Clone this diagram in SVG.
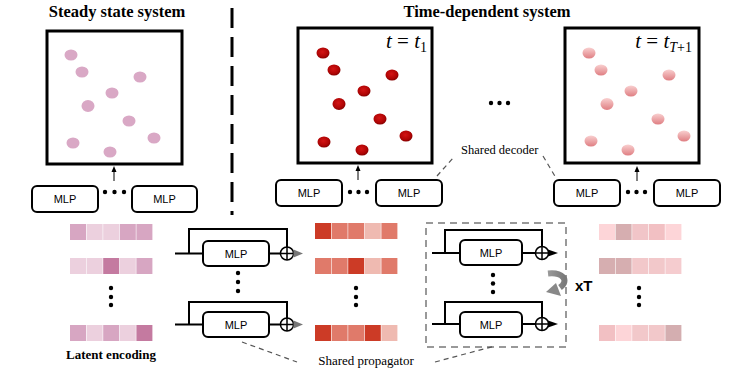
<svg xmlns="http://www.w3.org/2000/svg" width="747" height="374" viewBox="0 0 747 374">
<defs>
<radialGradient id="gRed" cx="0.45" cy="0.4" r="0.6">
<stop offset="0" stop-color="#d41414"/><stop offset="0.7" stop-color="#b00505"/><stop offset="1" stop-color="#850000"/>
</radialGradient>
<linearGradient id="gPink" x1="0" y1="0" x2="0" y2="1">
<stop offset="0" stop-color="#f9d0d0"/><stop offset="1" stop-color="#df7e82"/>
</linearGradient>
<linearGradient id="gArr" x1="0" y1="0" x2="1" y2="0">
<stop offset="0" stop-color="#9a9a9a"/><stop offset="1" stop-color="#7a7a7a"/>
</linearGradient>
<marker id="arrUp" viewBox="0 0 6 6" refX="3" refY="3" markerWidth="6" markerHeight="6" orient="auto" markerUnits="userSpaceOnUse">
<path d="M0,0.5 L6,3 L0,5.5 Z" fill="#000"/>
</marker>
<g id="plus">
<circle cx="0" cy="0" r="6.5" fill="#fff" stroke="#000" stroke-width="1.5"/>
<path d="M-6.5,0 H6.5 M0,-6.5 V6.5" stroke="#000" stroke-width="1.5"/>
</g>
</defs>
<style>
.title{font-family:"Liberation Serif",serif;font-weight:bold;font-size:16.5px;fill:#000}
.box{fill:#fff;stroke:#000;stroke-width:3}
.mlp{fill:#fff;stroke:#000;stroke-width:2}
.mlpt{font-family:"Liberation Sans",Arial,sans-serif;font-size:11px;fill:#000;text-anchor:middle}
.lbl{font-family:"Liberation Serif",serif;font-size:13px;fill:#000}
.math{font-family:"Liberation Serif",serif;font-size:21px;fill:#000}
.ps{fill:#d9a8c5}
.pr{fill:url(#gRed)}
.pp{fill:url(#gPink)}
.dot{fill:#000}
.wire{fill:none;stroke:#000;stroke-width:2}
.lead{fill:none;stroke:#555;stroke-width:1.2;stroke-dasharray:5 4}
</style>

<text class="title" x="117" y="17" text-anchor="middle">Steady state system</text>
<text class="title" x="487" y="17" text-anchor="middle">Time-dependent system</text>
<line x1="232" y1="8" x2="232" y2="215" stroke="#000" stroke-width="3" stroke-dasharray="20 9"/>

<g id="steady-box">
<rect class="box" x="47" y="31" width="135" height="133"/>
<ellipse class="ps" cx="71" cy="55" rx="6.5" ry="5.5"/>
<ellipse class="ps" cx="82" cy="72" rx="6.5" ry="5.5"/>
<ellipse class="ps" cx="140" cy="77" rx="6.5" ry="5.5"/>
<ellipse class="ps" cx="112" cy="93" rx="6.5" ry="5.5"/>
<ellipse class="ps" cx="88" cy="106" rx="6.5" ry="6"/>
<ellipse class="ps" cx="129" cy="121" rx="6.5" ry="5.5"/>
<ellipse class="ps" cx="154" cy="138" rx="6.5" ry="5.5"/>
<ellipse class="ps" cx="73" cy="143" rx="6.5" ry="5.5"/>
<ellipse class="ps" cx="110" cy="152" rx="6.5" ry="5.5"/>
</g>

<g id="t1-box">
<rect class="box" x="298" y="28" width="134" height="135"/>
<text class="math" x="427" y="48" text-anchor="end"><tspan font-style="italic">t</tspan> = <tspan font-style="italic">t</tspan><tspan font-size="14" dy="4">1</tspan></text>
<ellipse class="pr" cx="323" cy="53" rx="6.5" ry="5.5"/>
<ellipse class="pr" cx="334" cy="70" rx="6.5" ry="5.5"/>
<ellipse class="pr" cx="392" cy="75" rx="6.5" ry="5.5"/>
<ellipse class="pr" cx="364" cy="91" rx="6.5" ry="5.5"/>
<ellipse class="pr" cx="339" cy="104" rx="6.5" ry="6"/>
<ellipse class="pr" cx="380" cy="119" rx="6.5" ry="5.5"/>
<ellipse class="pr" cx="406" cy="136" rx="6.5" ry="5.5"/>
<ellipse class="pr" cx="324" cy="142" rx="6.5" ry="5.5"/>
<ellipse class="pr" cx="362" cy="150" rx="6.5" ry="5.5"/>
</g>

<g id="tT-box">
<rect class="box" x="565" y="28" width="134" height="135"/>
<text class="math" x="692" y="48" text-anchor="end"><tspan font-style="italic">t</tspan> = <tspan font-style="italic">t</tspan><tspan font-size="14" dy="4"><tspan font-style="italic">T</tspan>+1</tspan></text>
<ellipse class="pp" cx="589" cy="53" rx="6.5" ry="5.5"/>
<ellipse class="pp" cx="601" cy="70" rx="6.5" ry="5.5"/>
<ellipse class="pp" cx="669" cy="75" rx="6.5" ry="5.5"/>
<ellipse class="pp" cx="631" cy="91" rx="6.5" ry="5.5"/>
<ellipse class="pp" cx="607" cy="104" rx="6.5" ry="6"/>
<ellipse class="pp" cx="658" cy="119" rx="6.5" ry="5.5"/>
<ellipse class="pp" cx="684" cy="136" rx="6.5" ry="5.5"/>
<ellipse class="pp" cx="591" cy="141" rx="6.5" ry="5.5"/>
<ellipse class="pp" cx="628" cy="150" rx="6.5" ry="5.5"/>
</g>

<g id="ellipsis-top">
<circle class="dot" cx="491" cy="103" r="2.2"/><circle class="dot" cx="499.5" cy="103" r="2.2"/><circle class="dot" cx="508" cy="103" r="2.2"/>
</g>

<g id="steady-mlps">
<rect class="mlp" x="32" y="186" width="66" height="26" rx="5"/><text class="mlpt" x="65" y="203">MLP</text>
<rect class="mlp" x="132" y="186" width="65" height="26" rx="5"/><text class="mlpt" x="164.5" y="203">MLP</text>
<circle class="dot" cx="105" cy="192" r="2.2"/><circle class="dot" cx="114.5" cy="192" r="2.2"/><circle class="dot" cx="124" cy="192" r="2.2"/>
</g>

<g id="t1-mlps">
<rect class="mlp" x="276" y="180" width="66" height="26" rx="5"/><text class="mlpt" x="309" y="197">MLP</text>
<rect class="mlp" x="376" y="180" width="66" height="26" rx="5"/><text class="mlpt" x="409" y="197">MLP</text>
<circle class="dot" cx="350" cy="192" r="2.2"/><circle class="dot" cx="358.5" cy="192" r="2.2"/><circle class="dot" cx="367" cy="192" r="2.2"/>
</g>

<g id="tT-mlps">
<rect class="mlp" x="554" y="180" width="66" height="26" rx="5"/><text class="mlpt" x="587" y="197">MLP</text>
<rect class="mlp" x="654" y="180" width="66" height="26" rx="5"/><text class="mlpt" x="687" y="197">MLP</text>
<circle class="dot" cx="628" cy="192" r="2.2"/><circle class="dot" cx="636.5" cy="192" r="2.2"/><circle class="dot" cx="645" cy="192" r="2.2"/>
</g>

<text id="shared-decoder" class="lbl" x="461" y="154" style="font-size:12.5px">Shared decoder</text>

<g id="latent-encoding">
<rect x="70" y="224" width="16" height="16" fill="#d7a6c2"/><rect x="86.6" y="224" width="16" height="16" fill="#ecd0de"/><rect x="103.2" y="224" width="16" height="16" fill="#ecd0de"/><rect x="119.8" y="224" width="16" height="16" fill="#d7a6c2"/><rect x="136.4" y="224" width="16" height="16" fill="#d7a6c2"/>
<rect x="70" y="258" width="16" height="16" fill="#ecd0de"/><rect x="86.6" y="258" width="16" height="16" fill="#ecd0de"/><rect x="103.2" y="258" width="16" height="16" fill="#c47aa0"/><rect x="119.8" y="258" width="16" height="16" fill="#ecd0de"/><rect x="136.4" y="258" width="16" height="16" fill="#d7a6c2"/>
<rect x="70" y="325" width="16" height="16" fill="#d7a6c2"/><rect x="86.6" y="325" width="16" height="16" fill="#ecd0de"/><rect x="103.2" y="325" width="16" height="16" fill="#d7a6c2"/><rect x="119.8" y="325" width="16" height="16" fill="#ecd0de"/><rect x="136.4" y="325" width="16" height="16" fill="#c47aa0"/>
<circle class="dot" cx="111" cy="288" r="2.2"/><circle class="dot" cx="111" cy="297" r="2.2"/><circle class="dot" cx="111" cy="305" r="2.2"/>
<text class="lbl" x="111" y="359" text-anchor="middle" font-weight="bold">Latent encoding</text>
</g>

<g id="propagator-1">
<rect class="mlp" x="203" y="241" width="66" height="25" rx="5"/><text class="mlpt" x="236" y="257.5">MLP</text>
<rect class="mlp" x="203" y="312" width="66" height="25" rx="5"/><text class="mlpt" x="236" y="328.5">MLP</text>
<use href="#plus" x="287" y="253.5"/>
<use href="#plus" x="287" y="324.5"/>
<polygon points="293.5,249.5 303,253.5 293.5,257.5" fill="#777"/>
<polygon points="293.5,320.5 303,324.5 293.5,328.5" fill="#777"/>
<circle class="dot" cx="238" cy="273" r="2.2"/><circle class="dot" cx="238" cy="282" r="2.2"/><circle class="dot" cx="238" cy="291" r="2.2"/>
</g>

<g id="latent-1">
<rect x="315" y="223" width="16" height="16" fill="#cc3b26"/><rect x="331.6" y="223" width="16" height="16" fill="#e07a6a"/><rect x="348.2" y="223" width="16" height="16" fill="#e07a6a"/><rect x="364.8" y="223" width="16" height="16" fill="#efbab1"/><rect x="381.4" y="223" width="16" height="16" fill="#e07a6a"/>
<rect x="315" y="258" width="16" height="16" fill="#e07a6a"/><rect x="331.6" y="258" width="16" height="16" fill="#e07a6a"/><rect x="348.2" y="258" width="16" height="16" fill="#cc3b26"/><rect x="364.8" y="258" width="16" height="16" fill="#efbab1"/><rect x="381.4" y="258" width="16" height="16" fill="#e07a6a"/>
<rect x="315" y="325" width="16" height="16" fill="#cc3b26"/><rect x="331.6" y="325" width="16" height="16" fill="#e07a6a"/><rect x="348.2" y="325" width="16" height="16" fill="#e07a6a"/><rect x="364.8" y="325" width="16" height="16" fill="#cc3b26"/><rect x="381.4" y="325" width="16" height="16" fill="#efbab1"/>
<circle class="dot" cx="356" cy="288" r="2.2"/><circle class="dot" cx="356" cy="297" r="2.2"/><circle class="dot" cx="356" cy="305" r="2.2"/>
</g>

<g id="propagator-T">
<rect x="426" y="223" width="140" height="124" fill="none" stroke="#999" stroke-width="2" stroke-dasharray="7 5"/>
<rect class="mlp" x="460" y="240" width="62" height="25" rx="5"/><text class="mlpt" x="491" y="256.5">MLP</text>
<rect class="mlp" x="460" y="312" width="62" height="25" rx="5"/><text class="mlpt" x="491" y="328.5">MLP</text>
<use href="#plus" x="542" y="253"/>
<use href="#plus" x="542" y="324"/>
<polygon points="548,249.5 558,253 548,256.5" fill="#000"/>
<polygon points="548,320.5 558,324 548,327.5" fill="#000"/>
<circle class="dot" cx="493" cy="275" r="2.2"/><circle class="dot" cx="493" cy="283.5" r="2.2"/><circle class="dot" cx="493" cy="292" r="2.2"/>
<path d="M548,273.5 C562,272 570,280 560,287.5" fill="none" stroke="url(#gArr)" stroke-width="6"/>
<polygon points="556,283 546,292 561,296" fill="#888"/>
<text x="575" y="291" font-family="Liberation Sans,Arial,sans-serif" font-size="15" font-weight="bold" fill="#000">xT</text>
</g>

<g id="latent-T">
<rect x="599" y="224" width="16" height="16" fill="#fdd5d8"/><rect x="615.6" y="224" width="16" height="16" fill="#d6aeb0"/><rect x="632.2" y="224" width="16" height="16" fill="#f1c5c8"/><rect x="648.8" y="224" width="16" height="16" fill="#f2c0c3"/><rect x="665.4" y="224" width="16" height="16" fill="#fdd5d8"/>
<rect x="599" y="258" width="16" height="16" fill="#d6aeb0"/><rect x="615.6" y="258" width="16" height="16" fill="#d6aeb0"/><rect x="632.2" y="258" width="16" height="16" fill="#f2c8ca"/><rect x="648.8" y="258" width="16" height="16" fill="#f2c8ca"/><rect x="665.4" y="258" width="16" height="16" fill="#f5cccf"/>
<rect x="599" y="325" width="16" height="16" fill="#f2c0c3"/><rect x="615.6" y="325" width="16" height="16" fill="#fdd5d8"/><rect x="632.2" y="325" width="16" height="16" fill="#f2c8ca"/><rect x="648.8" y="325" width="16" height="16" fill="#f2c8ca"/><rect x="665.4" y="325" width="16" height="16" fill="#d4aeb0"/>
<circle class="dot" cx="639" cy="288" r="2.2"/><circle class="dot" cx="639" cy="297" r="2.2"/><circle class="dot" cx="639" cy="305" r="2.2"/>
</g>

<text id="shared-propagator" class="lbl" x="366" y="365" text-anchor="middle">Shared propagator</text>

<g id="connectors">
<line x1="114" y1="181" x2="114" y2="169" stroke="#000" stroke-width="1" marker-end="url(#arrUp)"/>
<line x1="358" y1="180" x2="358" y2="168" stroke="#000" stroke-width="1" marker-end="url(#arrUp)"/>
<line x1="637" y1="181" x2="637" y2="169" stroke="#000" stroke-width="1" marker-end="url(#arrUp)"/>
<path class="lead" d="M437,176 L453,158"/>
<path class="lead" d="M543,156 L556,178"/>
<path class="lead" d="M242,342 L297,362"/>
<path class="lead" d="M435,362 L495,346"/>
<path class="wire" d="M175,253.5 H203 M189,253.5 V229 H287 V247 M269,253.5 H280.5"/>
<path class="wire" d="M175,324.5 H203 M189,324.5 V302 H287 V318 M269,324.5 H280.5"/>
<path class="wire" d="M432,253 H460 M445,253 V230 H542 V246.5 M522,253 H535.5"/>
<path class="wire" d="M432,324 H460 M445,324 V302 H542 V317.5 M522,324 H535.5"/>
</g>
</svg>
